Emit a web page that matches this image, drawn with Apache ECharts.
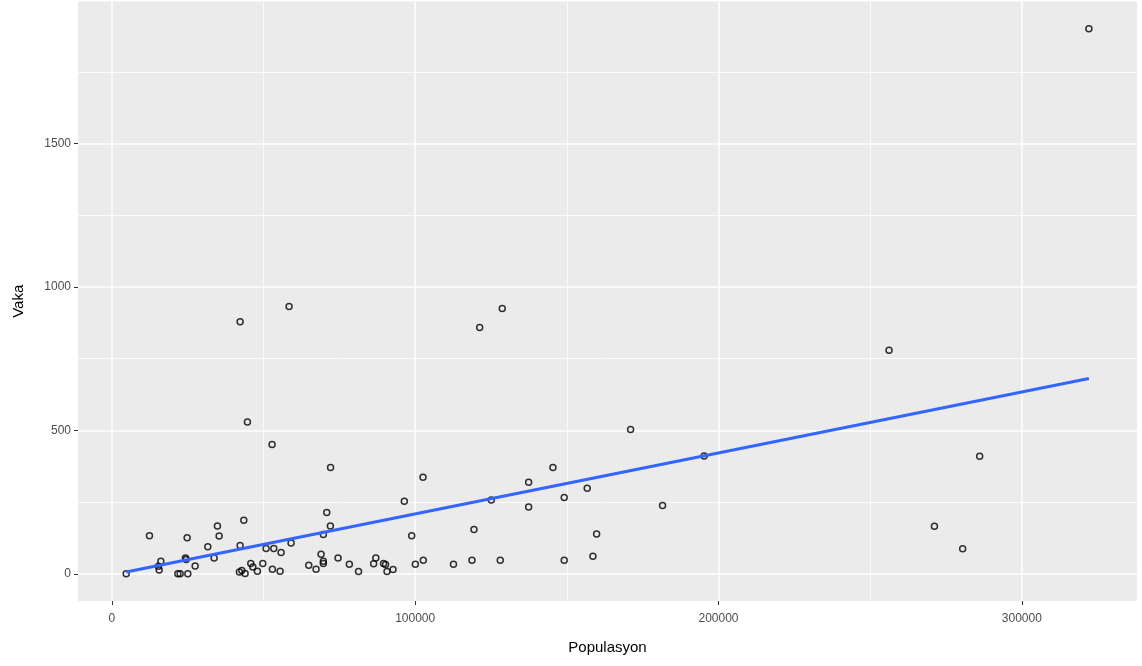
<!DOCTYPE html>
<html>
<head>
<meta charset="utf-8">
<script src="https://cdn.jsdelivr.net/npm/echarts@6/dist/echarts.min.js"></script>
<style>
  html, body { margin: 0; padding: 0; background: #ffffff; }
  #chart { width: 1142px; height: 666px; }
</style>
</head>
<body>
<div id="chart"></div>
<script>
// Data
const populasyon = [4712,12389,16146,15585,15355,24810,24250,24480,27450,21750,22500,25040,
  34795,35355,31630,33710,42275,42045,43495,44680,42275,58420,52820,42835,43920,45800,46460,
  47975,49755,50840,53380,55785,59080,52920,55455,64910,67320,68965,69720,69720,70840,72030,
  69720,72095,74565,78290,81320,87020,86300,89560,90220,90710,92690,96410,98850,100040,102670,
  102570,112620,118720,119380,121260,128700,125080,128040,137400,137400,145410,149130,149130,
  156710,158590,159810,171010,181550,195260,256220,271180,280500,286100,322110];
const vaka = [0,133,44,13,26,126,55,50,27,0,0,0,
  167,132,94,55,99,6,187,529,879,932,451,11,1,36,24,
  9,36,88,88,74,107,16,9,30,16,68,44,36,214,167,
  137,371,55,33,8,55,35,36,32,8,15,253,133,33,47,
  337,33,47,154,859,925,257,47,319,233,371,266,47,
  298,61,139,503,238,411,780,166,87,410,1901];
// Fitted (lm) line end points
const fitX = [4712, 322110];
const fitY = [6, 681];
// Tick values
const xMajorTicks = [0, 100000, 200000, 300000];
const xMinorTicks = [50000, 150000, 250000];
const yMajorTicks = [0, 500, 1000, 1500];
const yMinorTicks = [250, 750, 1250, 1750];

const xMin = -11170, xMax = 337970;
const yMin = -95, yMax = 1996;

const points = populasyon.map((x, i) => [x, vaka[i]]);
const fitLine = fitX.map((x, i) => [x, fitY[i]]);

const chart = echarts.init(document.getElementById('chart'), null, { renderer: 'canvas' });
const font = 'Liberation Sans, Arial, sans-serif';
const plain = v => String(v);

chart.setOption({
  animation: false,
  backgroundColor: '#ffffff',
  grid: {
    left: 78, right: 5, top: 1.5, bottom: 65,
    containLabel: false, outerBoundsMode: 'none',
    show: true, backgroundColor: '#EBEBEB', borderWidth: 0
  },
  xAxis: [
    {
      type: 'value', min: xMin, max: xMax,
      name: 'Populasyon', nameLocation: 'middle', nameGap: 39,
      nameTextStyle: { color: '#000000', fontSize: 15, fontFamily: font },
      axisLine: { show: false, onZero: false },
      axisTick: { show: true, customValues: xMajorTicks, length: 4, lineStyle: { color: '#333333', width: 1 } },
      axisLabel: { customValues: xMajorTicks, formatter: plain, color: '#4D4D4D', fontSize: 12, fontFamily: font, margin: 12 },
      splitLine: { show: true, lineStyle: { color: '#ffffff', width: 1.5 } }
    },
    {
      type: 'value', min: xMin, max: xMax, position: 'bottom',
      axisLine: { show: false, onZero: false },
      axisTick: { show: false, customValues: xMinorTicks },
      axisLabel: { show: false, customValues: xMinorTicks },
      splitLine: { show: true, lineStyle: { color: '#ffffff', width: 0.8 } }
    }
  ],
  yAxis: [
    {
      type: 'value', min: yMin, max: yMax,
      name: 'Vaka', nameLocation: 'middle', nameGap: 52, nameRotate: 90,
      nameTextStyle: { color: '#000000', fontSize: 15, fontFamily: font },
      axisLine: { show: false, onZero: false },
      axisTick: { show: true, customValues: yMajorTicks, length: 4, lineStyle: { color: '#333333', width: 1 } },
      axisLabel: { customValues: yMajorTicks, formatter: plain, color: '#4D4D4D', fontSize: 12, fontFamily: font, margin: 7 },
      splitLine: { show: true, lineStyle: { color: '#ffffff', width: 1.5 } }
    },
    {
      type: 'value', min: yMin, max: yMax, position: 'left',
      axisLine: { show: false, onZero: false },
      axisTick: { show: false, customValues: yMinorTicks },
      axisLabel: { show: false, customValues: yMinorTicks },
      splitLine: { show: true, lineStyle: { color: '#ffffff', width: 0.8 } }
    }
  ],
  series: [
    {
      type: 'scatter', xAxisIndex: 0, yAxisIndex: 0,
      data: points, symbol: 'circle', symbolSize: 6,
      itemStyle: { color: 'rgba(0,0,0,0)', borderColor: '#000000', borderWidth: 1.5 },
      z: 3
    },
    {
      type: 'line', xAxisIndex: 0, yAxisIndex: 0,
      data: fitLine, showSymbol: false, symbol: 'none',
      lineStyle: { color: '#3366FF', width: 3 },
      z: 4
    }
  ]
});
</script>
</body>
</html>
